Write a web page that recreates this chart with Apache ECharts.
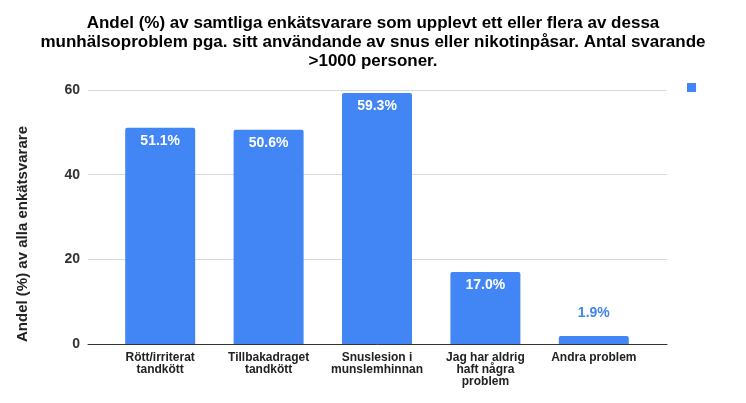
<!DOCTYPE html>
<html><head><meta charset="utf-8">
<script src="https://cdn.jsdelivr.net/npm/echarts@6/dist/echarts.min.js"></script>
<style>html,body{margin:0;padding:0;background:#fff}#c{width:746px;height:403px}</style>
</head><body><div id="c"></div>
<script>
const categories = ['Rött/irriterat\ntandkött', 'Tillbakadraget\ntandkött', 'Snuslesion i\nmunslemhinnan', 'Jag har aldrig\nhaft några\nproblem', 'Andra problem'];
const values = [51.1, 50.6, 59.3, 17.0, 1.9];
const yTicks = [0, 20, 40, 60];
const titleText = 'Andel (%) av samtliga enkätsvarare som upplevt ett eller flera av dessa\nmunhälsoproblem pga. sitt användande av snus eller nikotinpåsar. Antal svarande\n>1000 personer.';
const yName = 'Andel (%) av alla enkätsvarare';

const chart = echarts.init(document.getElementById('c'));
const F = 'Liberation Sans, Arial, sans-serif';
chart.setOption({
  animation: false,
  title: {
    text: titleText, left: 'center', top: 9,
    textStyle: {fontFamily: F, fontSize: 17, fontWeight: 'bold', color: '#000', lineHeight: 19}
  },
  legend: {
    right: 45, top: 78, itemWidth: 9, itemHeight: 9, icon: 'rect',
    formatter: () => '', data: ['Andel']
  },
  grid: [
    {left: 88, right: 79, top: 90, bottom: 59},
    {left: 106, right: 98, top: 90, bottom: 59}
  ],
  xAxis: [
    {gridIndex: 0, type: 'category', data: categories,
     axisLine: {lineStyle: {color: '#333', width: 1}}, axisTick: {show: false}, axisLabel: {show: false}},
    {gridIndex: 1, type: 'category', data: categories,
     axisLine: {show: false}, axisTick: {show: false},
     axisLabel: {fontFamily: F, fontSize: 12, fontWeight: 'bold', color: '#222', lineHeight: 12, margin: 8, interval: 0}}
  ],
  yAxis: [
    {gridIndex: 0, type: 'value', min: 0, max: 60, interval: 20,
     name: yName, nameLocation: 'middle', nameGap: 58, nameRotate: 90,
     nameTextStyle: {fontFamily: F, fontSize: 15, fontWeight: 'bold', color: '#222', padding: [0, 0, 0, -34]},
     axisLine: {show: false}, axisTick: {show: false},
     axisLabel: {fontFamily: F, fontSize: 14, fontWeight: 'bold', color: '#333', margin: 8,
       formatter: v => yTicks.includes(v) ? String(v) : ''},
     splitLine: {lineStyle: {color: '#d9d9d9', width: 1}}},
    {gridIndex: 1, type: 'value', min: 0, max: 60, interval: 20, show: false, splitLine: {show: false}}
  ],
  series: [{
    name: 'Andel', type: 'bar', xAxisIndex: 1, yAxisIndex: 1,
    data: values.map(v => ({
      value: v,
      label: v < 10 ? {position: 'top', distance: 16, color: '#4285F4'} : {position: 'insideTop', distance: 6, color: '#fff'}
    })),
    barWidth: 70,
    itemStyle: {color: '#4285F4', borderRadius: [2, 2, 0, 0]},
    label: {show: true, fontFamily: F, fontSize: 14, fontWeight: 'bold',
      formatter: p => p.value.toFixed(1) + '%'}
  }]
});
</script></body></html>
